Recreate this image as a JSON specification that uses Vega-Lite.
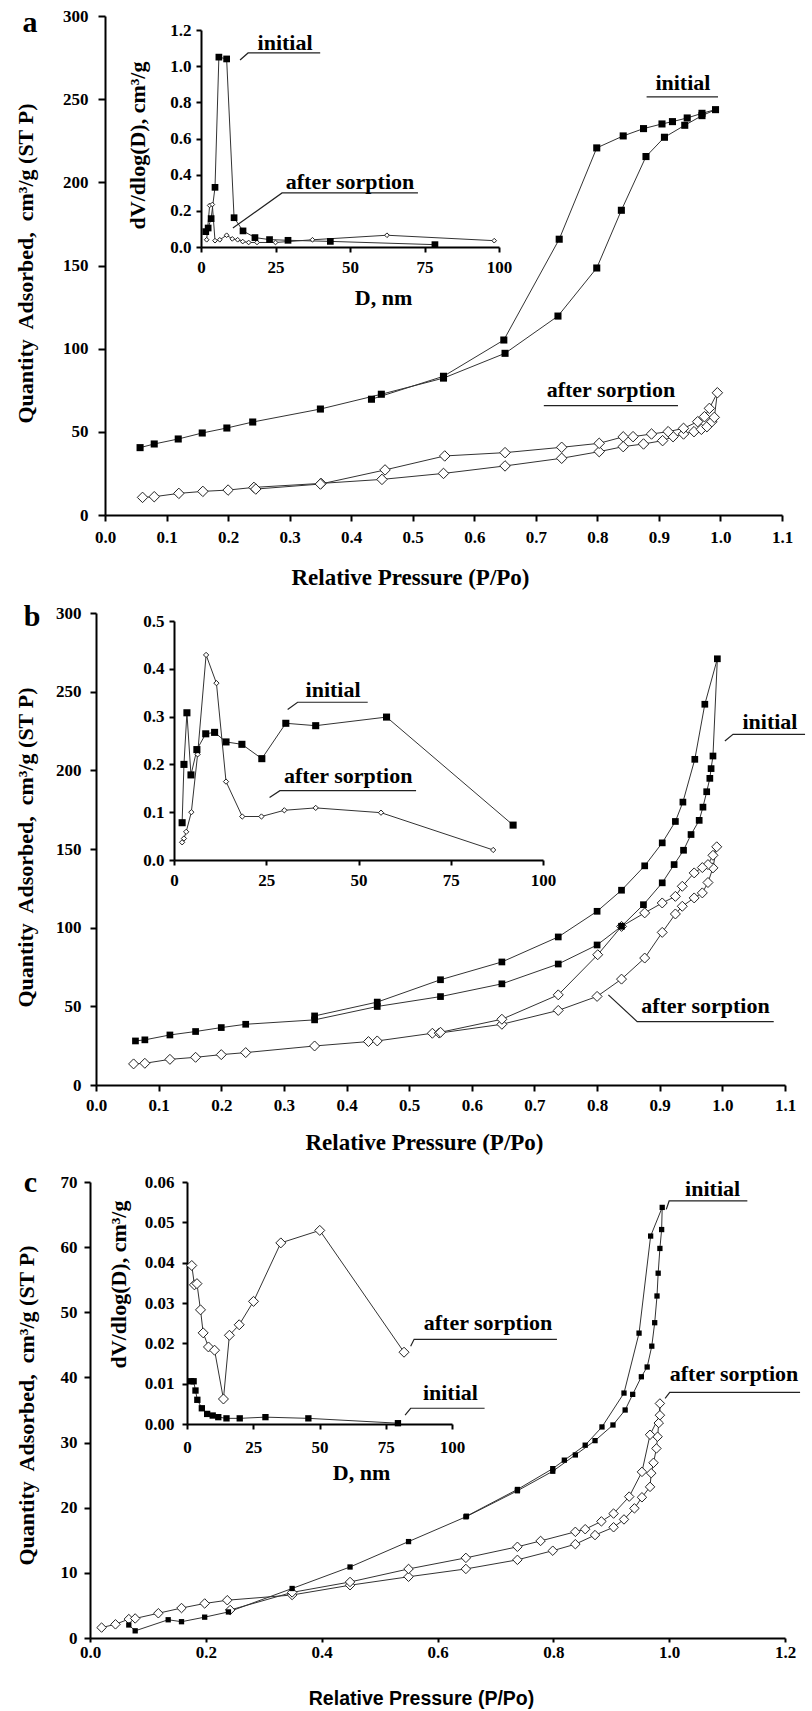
{
  "$schema": "https://vega.github.io/schema/vega-lite/v6.json",
  "width": 812,
  "height": 1711,
  "autosize": {"type": "none"},
  "padding": 0,
  "background": "white",
  "config": {
    "font": "Liberation Serif",
    "view": {"stroke": null},
    "axis": {
      "domainColor": "black", "domainWidth": 2, "tickColor": "black", "tickWidth": 2, "grid": false,
      "labelFont": "Liberation Serif", "labelFontWeight": "bold", "labelFontSize": 17, "labelColor": "black",
      "titleFont": "Liberation Serif", "titleFontWeight": "bold", "titleFontSize": 22, "titleColor": "black",
      "labelFlush": false, "labelOverlap": false, "titleBaseline": "middle", "titleAlign": "center"
    }
  },
  "datasets": {
    "aM": [
      {"s":"i","x":0.057,"y":40.5},{"s":"i","x":0.080,"y":42.7},{"s":"i","x":0.119,"y":45.7},{"s":"i","x":0.158,"y":49.3},{"s":"i","x":0.198,"y":52.3},{"s":"i","x":0.240,"y":55.9},{"s":"i","x":0.350,"y":63.7},{"s":"i","x":0.449,"y":72.6},{"s":"i","x":0.550,"y":82.3},{"s":"i","x":0.650,"y":97.2},{"s":"i","x":0.736,"y":119.6},{"s":"i","x":0.799,"y":148.5},{"s":"i","x":0.839,"y":183.2},{"s":"i","x":0.879,"y":215.5},{"s":"i","x":0.909,"y":227.1},{"s":"i","x":0.942,"y":234.3},{"s":"i","x":0.970,"y":240.1},{"s":"i","x":0.992,"y":243.7},{"s":"i","x":0.970,"y":241.5},{"s":"i","x":0.946,"y":238.7},{"s":"i","x":0.922,"y":236.5},{"s":"i","x":0.905,"y":235.1},{"s":"i","x":0.875,"y":232.3},{"s":"i","x":0.842,"y":227.9},{"s":"i","x":0.799,"y":220.7},{"s":"i","x":0.738,"y":165.8},{"s":"i","x":0.648,"y":105.2},{"s":"i","x":0.550,"y":83.4},{"s":"i","x":0.433,"y":69.6},
      {"s":"s","x":0.061,"y":10.6},{"s":"s","x":0.080,"y":11.0},{"s":"s","x":0.120,"y":13.0},{"s":"s","x":0.159,"y":14.2},{"s":"s","x":0.200,"y":15.0},{"s":"s","x":0.242,"y":16.6},{"s":"s","x":0.351,"y":19.0},{"s":"s","x":0.450,"y":21.4},{"s":"s","x":0.550,"y":25.0},{"s":"s","x":0.650,"y":29.5},{"s":"s","x":0.742,"y":34.1},{"s":"s","x":0.803,"y":38.1},{"s":"s","x":0.842,"y":41.1},{"s":"s","x":0.875,"y":42.7},{"s":"s","x":0.906,"y":44.7},{"s":"s","x":0.923,"y":47.1},{"s":"s","x":0.940,"y":48.7},{"s":"s","x":0.957,"y":50.1},{"s":"s","x":0.969,"y":51.5},{"s":"s","x":0.978,"y":53.1},{"s":"s","x":0.986,"y":56.1},{"s":"s","x":0.990,"y":58.7},{"s":"s","x":0.995,"y":73.5},{"s":"s","x":0.982,"y":64.1},{"s":"s","x":0.974,"y":59.1},{"s":"s","x":0.963,"y":56.1},{"s":"s","x":0.940,"y":52.1},{"s":"s","x":0.915,"y":50.1},{"s":"s","x":0.888,"y":48.7},{"s":"s","x":0.858,"y":47.1},{"s":"s","x":0.842,"y":47.0},{"s":"s","x":0.803,"y":43.1},{"s":"s","x":0.742,"y":40.7},{"s":"s","x":0.650,"y":37.5},{"s":"s","x":0.552,"y":35.5},{"s":"s","x":0.455,"y":27.1},{"s":"s","x":0.350,"y":18.6},{"s":"s","x":0.245,"y":15.6}
    ],
    "aML": [
      {"g":1,"x":0.880,"y":251.4},{"g":1,"x":0.996,"y":251.4},
      {"g":2,"x":0.713,"y":65.7},{"g":2,"x":0.931,"y":65.7}
    ],
    "aMT": [
      {"x":0.939,"y":259.8,"t":"initial"},{"x":0.822,"y":75.2,"t":"after sorption"}
    ],
    "aI": [
      {"s":"i","x":1.6,"y":0.085},{"s":"i","x":2.4,"y":0.105},{"s":"i","x":3.4,"y":0.157},{"s":"i","x":4.7,"y":0.33},{"s":"i","x":6.0,"y":1.05},{"s":"i","x":8.6,"y":1.04},{"s":"i","x":11.1,"y":0.162},{"s":"i","x":14.1,"y":0.089},{"s":"i","x":18.1,"y":0.052},{"s":"i","x":23.0,"y":0.041},{"s":"i","x":29.2,"y":0.037},{"s":"i","x":43.4,"y":0.031},{"s":"i","x":78.5,"y":0.013},
      {"s":"s","x":1.9,"y":0.04},{"s":"s","x":2.9,"y":0.23},{"s":"s","x":3.8,"y":0.235},{"s":"s","x":4.7,"y":0.035},{"s":"s","x":6.3,"y":0.04},{"s":"s","x":8.6,"y":0.065},{"s":"s","x":10.5,"y":0.045},{"s":"s","x":12.3,"y":0.04},{"s":"s","x":14.0,"y":0.03},{"s":"s","x":16.0,"y":0.025},{"s":"s","x":18.8,"y":0.025},{"s":"s","x":25.0,"y":0.025},{"s":"s","x":37.4,"y":0.04},{"s":"s","x":62.4,"y":0.065},{"s":"s","x":98.4,"y":0.035}
    ],
    "aIL": [
      {"g":1,"x":13.1,"y":1.034},{"g":1,"x":15.8,"y":1.073},{"g":1,"x":40,"y":1.073},
      {"g":2,"x":10.7,"y":0.105},{"g":2,"x":27.2,"y":0.299},{"g":2,"x":72.8,"y":0.299}
    ],
    "aIT": [
      {"x":28.2,"y":1.128,"t":"initial"},{"x":50,"y":0.36,"t":"after sorption"}
    ],
    "bM": [
      {"s":"i","x":0.063,"y":28.0},{"s":"i","x":0.078,"y":28.7},{"s":"i","x":0.118,"y":31.8},{"s":"i","x":0.159,"y":34.0},{"s":"i","x":0.200,"y":36.5},{"s":"i","x":0.239,"y":38.6},{"s":"i","x":0.349,"y":41.4},{"s":"i","x":0.449,"y":49.9},{"s":"i","x":0.550,"y":56.2},{"s":"i","x":0.648,"y":64.3},{"s":"i","x":0.738,"y":76.9},{"s":"i","x":0.800,"y":89.0},{"s":"i","x":0.839,"y":100.9},{"s":"i","x":0.874,"y":114.6},{"s":"i","x":0.904,"y":128.5},{"s":"i","x":0.923,"y":140.1},{"s":"i","x":0.938,"y":149.2},{"s":"i","x":0.950,"y":159.2},{"s":"i","x":0.963,"y":168.2},{"s":"i","x":0.969,"y":176.6},{"s":"i","x":0.975,"y":186.4},{"s":"i","x":0.980,"y":194.9},{"s":"i","x":0.982,"y":201.1},{"s":"i","x":0.985,"y":209.1},{"s":"i","x":0.992,"y":270.9},{"s":"i","x":0.972,"y":242.0},{"s":"i","x":0.956,"y":207.0},{"s":"i","x":0.937,"y":179.8},{"s":"i","x":0.925,"y":167.5},{"s":"i","x":0.904,"y":153.9},{"s":"i","x":0.876,"y":139.3},{"s":"i","x":0.839,"y":123.8},{"s":"i","x":0.800,"y":110.4},{"s":"i","x":0.738,"y":94.1},{"s":"i","x":0.648,"y":78.2},{"s":"i","x":0.550,"y":66.9},{"s":"i","x":0.449,"y":52.7},{"s":"i","x":0.349,"y":43.9},
      {"s":"s","x":0.060,"y":13.4},{"s":"s","x":0.078,"y":13.8},{"s":"s","x":0.118,"y":16.3},{"s":"s","x":0.159,"y":17.6},{"s":"s","x":0.200,"y":19.3},{"s":"s","x":0.239,"y":20.6},{"s":"s","x":0.349,"y":24.8},{"s":"s","x":0.435,"y":27.6},{"s":"s","x":0.449,"y":28.0},{"s":"s","x":0.537,"y":32.9},{"s":"s","x":0.548,"y":33.0},{"s":"s","x":0.648,"y":38.6},{"s":"s","x":0.738,"y":47.4},{"s":"s","x":0.800,"y":56.3},{"s":"s","x":0.839,"y":67.3},{"s":"s","x":0.876,"y":80.7},{"s":"s","x":0.904,"y":97.0},{"s":"s","x":0.925,"y":108.7},{"s":"s","x":0.936,"y":113.6},{"s":"s","x":0.955,"y":118.9},{"s":"s","x":0.968,"y":122.1},{"s":"s","x":0.977,"y":128.7},{"s":"s","x":0.985,"y":138.0},{"s":"s","x":0.991,"y":151.4},{"s":"s","x":0.985,"y":146.0},{"s":"s","x":0.977,"y":140.1},{"s":"s","x":0.968,"y":138.2},{"s":"s","x":0.955,"y":134.8},{"s":"s","x":0.936,"y":126.3},{"s":"s","x":0.925,"y":119.9},{"s":"s","x":0.904,"y":115.7},{"s":"s","x":0.876,"y":109.4},{"s":"s","x":0.839,"y":100.8},{"s":"s","x":0.801,"y":82.8},{"s":"s","x":0.738,"y":57.3},{"s":"s","x":0.648,"y":41.8},{"s":"s","x":0.550,"y":33.5}
    ],
    "bML": [
      {"g":1,"x":1.004,"y":218.7},{"g":1,"x":1.017,"y":222.9},{"g":1,"x":1.132,"y":222.9},
      {"g":2,"x":0.818,"y":57.3},{"g":2,"x":0.864,"y":40.3},{"g":2,"x":1.082,"y":40.3}
    ],
    "bMT": [
      {"x":1.076,"y":230.8,"t":"initial"},{"x":0.973,"y":49.9,"t":"after sorption"}
    ],
    "bI": [
      {"s":"i","x":2.2,"y":0.078},{"s":"i","x":2.7,"y":0.200},{"s":"i","x":3.5,"y":0.308},{"s":"i","x":4.6,"y":0.178},{"s":"i","x":6.2,"y":0.231},{"s":"i","x":8.6,"y":0.264},{"s":"i","x":11.0,"y":0.267},{"s":"i","x":14.1,"y":0.247},{"s":"i","x":18.4,"y":0.242},{"s":"i","x":23.8,"y":0.212},{"s":"i","x":30.3,"y":0.286},{"s":"i","x":38.4,"y":0.281},{"s":"i","x":57.6,"y":0.299},{"s":"i","x":91.9,"y":0.073},
      {"s":"s","x":2.2,"y":0.037},{"s":"s","x":2.7,"y":0.045},{"s":"s","x":3.3,"y":0.059},{"s":"s","x":4.7,"y":0.100},{"s":"s","x":6.4,"y":0.221},{"s":"s","x":8.7,"y":0.429},{"s":"s","x":11.5,"y":0.370},{"s":"s","x":14.1,"y":0.164},{"s":"s","x":18.5,"y":0.091},{"s":"s","x":23.7,"y":0.091},{"s":"s","x":29.9,"y":0.104},{"s":"s","x":38.4,"y":0.109},{"s":"s","x":56.1,"y":0.099},{"s":"s","x":86.5,"y":0.021}
    ],
    "bIL": [
      {"g":1,"x":30.8,"y":0.315},{"g":1,"x":33.5,"y":0.330},{"g":1,"x":52.5,"y":0.330},
      {"g":2,"x":25.9,"y":0.131},{"g":2,"x":28.7,"y":0.145},{"g":2,"x":65.6,"y":0.145}
    ],
    "bIT": [
      {"x":43.1,"y":0.356,"t":"initial"},{"x":47.2,"y":0.175,"t":"after sorption"}
    ],
    "cM": [
      {"s":"i","x":0.067,"y":2.0},{"s":"i","x":0.078,"y":1.1},{"s":"i","x":0.135,"y":2.8},{"s":"i","x":0.158,"y":2.5},{"s":"i","x":0.198,"y":3.2},{"s":"i","x":0.239,"y":4.0},{"s":"i","x":0.349,"y":7.6},{"s":"i","x":0.449,"y":10.9},{"s":"i","x":0.550,"y":14.8},{"s":"i","x":0.649,"y":18.6},{"s":"i","x":0.738,"y":22.6},{"s":"i","x":0.799,"y":25.6},{"s":"i","x":0.838,"y":28.1},{"s":"i","x":0.872,"y":30.3},{"s":"i","x":0.903,"y":32.7},{"s":"i","x":0.924,"y":35.0},{"s":"i","x":0.937,"y":37.4},{"s":"i","x":0.952,"y":40.1},{"s":"i","x":0.962,"y":41.6},{"s":"i","x":0.970,"y":44.8},{"s":"i","x":0.975,"y":48.4},{"s":"i","x":0.979,"y":52.5},{"s":"i","x":0.981,"y":56.0},{"s":"i","x":0.984,"y":59.8},{"s":"i","x":0.987,"y":62.7},{"s":"i","x":0.988,"y":66.1},{"s":"i","x":0.968,"y":61.7},{"s":"i","x":0.948,"y":46.8},{"s":"i","x":0.922,"y":37.6},{"s":"i","x":0.884,"y":32.4},{"s":"i","x":0.855,"y":29.6},{"s":"i","x":0.819,"y":27.3},{"s":"i","x":0.799,"y":26.0},{"s":"i","x":0.738,"y":22.8},{"s":"i","x":0.650,"y":18.7},
      {"s":"s","x":0.020,"y":1.6},{"s":"s","x":0.044,"y":2.1},{"s":"s","x":0.067,"y":2.9},{"s":"s","x":0.078,"y":3.0},{"s":"s","x":0.118,"y":3.8},{"s":"s","x":0.158,"y":4.6},{"s":"s","x":0.198,"y":5.3},{"s":"s","x":0.237,"y":5.8},{"s":"s","x":0.349,"y":6.6},{"s":"s","x":0.449,"y":8.1},{"s":"s","x":0.550,"y":9.4},{"s":"s","x":0.649,"y":10.6},{"s":"s","x":0.738,"y":12.0},{"s":"s","x":0.799,"y":13.4},{"s":"s","x":0.838,"y":14.4},{"s":"s","x":0.872,"y":15.8},{"s":"s","x":0.904,"y":17.0},{"s":"s","x":0.922,"y":18.2},{"s":"s","x":0.940,"y":19.9},{"s":"s","x":0.953,"y":21.6},{"s":"s","x":0.967,"y":23.2},{"s":"s","x":0.969,"y":25.3},{"s":"s","x":0.973,"y":26.9},{"s":"s","x":0.978,"y":29.1},{"s":"s","x":0.980,"y":30.9},{"s":"s","x":0.982,"y":33.0},{"s":"s","x":0.984,"y":36.0},{"s":"s","x":0.984,"y":34.2},{"s":"s","x":0.967,"y":31.2},{"s":"s","x":0.953,"y":25.5},{"s":"s","x":0.931,"y":21.7},{"s":"s","x":0.904,"y":19.1},{"s":"s","x":0.883,"y":17.9},{"s":"s","x":0.855,"y":16.7},{"s":"s","x":0.838,"y":16.3},{"s":"s","x":0.778,"y":14.9},{"s":"s","x":0.738,"y":14.0},{"s":"s","x":0.649,"y":12.3},{"s":"s","x":0.550,"y":10.6},{"s":"s","x":0.449,"y":8.6},{"s":"s","x":0.349,"y":7.0},{"s":"s","x":0.242,"y":4.3}
    ],
    "cML": [
      {"g":1,"x":0.995,"y":65.8},{"g":1,"x":1.0,"y":67.1},{"g":1,"x":1.135,"y":67.1},
      {"g":2,"x":0.993,"y":36.8},{"g":2,"x":1.001,"y":37.7},{"g":2,"x":1.226,"y":37.7}
    ],
    "cMT": [
      {"x":1.075,"y":68.9,"t":"initial"},{"x":1.112,"y":40.6,"t":"after sorption"}
    ],
    "cI": [
      {"s":"s","x":1.8,"y":0.0393},{"s":"s","x":2.8,"y":0.0345},{"s":"s","x":3.75,"y":0.0348},{"s":"s","x":5.1,"y":0.0283},{"s":"s","x":6.1,"y":0.0226},{"s":"s","x":8.1,"y":0.0191},{"s":"s","x":10.4,"y":0.0183},{"s":"s","x":13.75,"y":0.0062},{"s":"s","x":16.0,"y":0.0220},{"s":"s","x":19.7,"y":0.0246},{"s":"s","x":25.1,"y":0.0304},{"s":"s","x":35.4,"y":0.0449},{"s":"s","x":50.1,"y":0.0480},{"s":"s","x":81.9,"y":0.0178},
      {"s":"i","x":1.5,"y":0.0106},{"s":"i","x":2.5,"y":0.0106},{"s":"i","x":3.2,"y":0.0083},{"s":"i","x":3.9,"y":0.0060},{"s":"i","x":5.6,"y":0.0039},{"s":"i","x":7.6,"y":0.0025},{"s":"i","x":9.7,"y":0.0021},{"s":"i","x":11.8,"y":0.0017},{"s":"i","x":14.9,"y":0.0014},{"s":"i","x":19.9,"y":0.0014},{"s":"i","x":29.6,"y":0.0017},{"s":"i","x":45.8,"y":0.0014},{"s":"i","x":79.6,"y":0.0002}
    ],
    "cIL": [
      {"g":1,"x":84.4,"y":0.0193},{"g":1,"x":85.7,"y":0.0210},{"g":1,"x":139.6,"y":0.0210},
      {"g":2,"x":82.3,"y":0.0022},{"g":2,"x":84.4,"y":0.0039},{"g":2,"x":112.3,"y":0.0039}
    ],
    "cIT": [
      {"x":113.6,"y":0.0251,"t":"after sorption"},{"x":99.4,"y":0.0076,"t":"initial"}
    ]
  },
  "layer": [
    {
      "layer": [
        {"data": {"name": "aM"}, "mark": {"type": "line", "stroke": "#333333", "strokeWidth": 1},
         "encoding": {
           "x": {"field": "x", "type": "quantitative", "scale": {"domain": [0, 1.1], "range": [105, 782], "nice": false, "zero": false},
                 "axis": {"orient": "bottom", "offset": -1196, "values": [0,0.1,0.2,0.3,0.4,0.5,0.6,0.7,0.8,0.9,1.0,1.1], "format": ".1f", "tickSize": 6, "labelPadding": 8, "title": "Relative Pressure (P/Po)", "titleFontSize": 23, "titleX": 410, "titleY": 62}},
           "y": {"field": "y", "type": "quantitative", "scale": {"domain": [0, 300], "range": [515, 16], "nice": false, "zero": false},
                 "axis": {"orient": "left", "offset": -105, "values": [0,50,100,150,200,250,300], "tickSize": 7, "labelPadding": 10, "title": "Quantity\u00a0 Adsorbed,\u00a0 cm\u00b3/g (ST\u00a0P)", "titleAngle": 270, "titleX": -80, "titleY": 263}},
           "detail": {"field": "s"}, "order": {"value": null}}},
        {"data": {"name": "aM"}, "transform": [{"filter": "datum.s == 's'"}],
         "mark": {"type": "point", "shape": "diamond", "filled": true, "fill": "white", "stroke": "#222222", "strokeWidth": 1, "size": 110, "opacity": 1},
         "encoding": {"x": {"field": "x", "type": "quantitative"}, "y": {"field": "y", "type": "quantitative"}}},
        {"data": {"name": "aM"}, "transform": [{"filter": "datum.s == 'i'"}],
         "mark": {"type": "point", "shape": "square", "filled": true, "color": "black", "size": 50, "opacity": 1},
         "encoding": {"x": {"field": "x", "type": "quantitative"}, "y": {"field": "y", "type": "quantitative"}}},
        {"data": {"name": "aML"}, "mark": {"type": "line", "stroke": "#222222", "strokeWidth": 1.2},
         "encoding": {"x": {"field": "x", "type": "quantitative"}, "y": {"field": "y", "type": "quantitative"}, "detail": {"field": "g"}, "order": {"value": null}}},
        {"data": {"name": "aMT"}, "mark": {"type": "text", "font": "Liberation Serif", "fontWeight": "bold", "fontSize": 22, "baseline": "middle", "align": "center", "color": "black"},
         "encoding": {"x": {"field": "x", "type": "quantitative"}, "y": {"field": "y", "type": "quantitative"}, "text": {"field": "t"}}},
        {"data": {"values": [{"x": -0.122, "y": 290.4, "t": "a"}]}, "mark": {"type": "text", "font": "Liberation Serif", "fontWeight": "bold", "fontSize": 30, "baseline": "alphabetic", "align": "center", "color": "black"},
         "encoding": {"x": {"field": "x", "type": "quantitative"}, "y": {"field": "y", "type": "quantitative"}, "text": {"field": "t"}}}
      ]
    },
    {
      "layer": [
        {"data": {"name": "aI"}, "mark": {"type": "line", "stroke": "#333333", "strokeWidth": 1},
         "encoding": {
           "x": {"field": "x", "type": "quantitative", "scale": {"domain": [0, 100], "range": [201, 499], "nice": false, "zero": false},
                 "axis": {"orient": "bottom", "offset": -1464, "values": [0,25,50,75,100], "tickSize": 5, "labelPadding": 7, "title": "D, nm", "titleX": 383, "titleY": 50}},
           "y": {"field": "y", "type": "quantitative", "scale": {"domain": [0, 1.2], "range": [247, 30], "nice": false, "zero": false},
                 "axis": {"orient": "left", "offset": -201, "values": [0,0.2,0.4,0.6,0.8,1.0,1.2], "format": ".1f", "tickSize": 5, "labelPadding": 5, "title": "dV/dlog(D), cm\u00b3/g", "titleAngle": 270, "titleX": -64, "titleY": 145}},
           "detail": {"field": "s"}, "order": {"value": null}}},
        {"data": {"name": "aI"}, "transform": [{"filter": "datum.s == 's'"}],
         "mark": {"type": "point", "shape": "diamond", "filled": true, "fill": "white", "stroke": "#222222", "strokeWidth": 1, "size": 22, "opacity": 1},
         "encoding": {"x": {"field": "x", "type": "quantitative"}, "y": {"field": "y", "type": "quantitative"}}},
        {"data": {"name": "aI"}, "transform": [{"filter": "datum.s == 'i'"}],
         "mark": {"type": "point", "shape": "square", "filled": true, "color": "black", "size": 45, "opacity": 1},
         "encoding": {"x": {"field": "x", "type": "quantitative"}, "y": {"field": "y", "type": "quantitative"}}},
        {"data": {"name": "aIL"}, "mark": {"type": "line", "stroke": "#222222", "strokeWidth": 1.2},
         "encoding": {"x": {"field": "x", "type": "quantitative"}, "y": {"field": "y", "type": "quantitative"}, "detail": {"field": "g"}, "order": {"value": null}}},
        {"data": {"name": "aIT"}, "mark": {"type": "text", "font": "Liberation Serif", "fontWeight": "bold", "fontSize": 22, "baseline": "middle", "align": "center", "color": "black"},
         "encoding": {"x": {"field": "x", "type": "quantitative"}, "y": {"field": "y", "type": "quantitative"}, "text": {"field": "t"}}}
      ]
    },
    {
      "layer": [
        {"data": {"name": "bM"}, "mark": {"type": "line", "stroke": "#333333", "strokeWidth": 1},
         "encoding": {
           "x": {"field": "x", "type": "quantitative", "scale": {"domain": [0, 1.1], "range": [96, 785], "nice": false, "zero": false},
                 "axis": {"orient": "bottom", "offset": -626, "values": [0,0.1,0.2,0.3,0.4,0.5,0.6,0.7,0.8,0.9,1.0,1.1], "format": ".1f", "tickSize": 6, "labelPadding": 6, "title": "Relative Pressure (P/Po)", "titleFontSize": 23, "titleX": 424, "titleY": 57}},
           "y": {"field": "y", "type": "quantitative", "scale": {"domain": [0, 300], "range": [1085, 613], "nice": false, "zero": false},
                 "axis": {"orient": "left", "offset": -96, "values": [0,50,100,150,200,250,300], "tickSize": 6, "labelPadding": 9, "title": "Quantity\u00a0 Adsorbed,\u00a0 cm\u00b3/g (ST\u00a0P)", "titleAngle": 270, "titleX": -71, "titleY": 847}},
           "detail": {"field": "s"}, "order": {"value": null}}},
        {"data": {"name": "bM"}, "transform": [{"filter": "datum.s == 's'"}],
         "mark": {"type": "point", "shape": "diamond", "filled": true, "fill": "white", "stroke": "#222222", "strokeWidth": 1, "size": 100, "opacity": 1},
         "encoding": {"x": {"field": "x", "type": "quantitative"}, "y": {"field": "y", "type": "quantitative"}}},
        {"data": {"name": "bM"}, "transform": [{"filter": "datum.s == 'i'"}],
         "mark": {"type": "point", "shape": "square", "filled": true, "color": "black", "size": 45, "opacity": 1},
         "encoding": {"x": {"field": "x", "type": "quantitative"}, "y": {"field": "y", "type": "quantitative"}}},
        {"data": {"name": "bML"}, "mark": {"type": "line", "stroke": "#222222", "strokeWidth": 1.2},
         "encoding": {"x": {"field": "x", "type": "quantitative"}, "y": {"field": "y", "type": "quantitative"}, "detail": {"field": "g"}, "order": {"value": null}}},
        {"data": {"name": "bMT"}, "mark": {"type": "text", "font": "Liberation Serif", "fontWeight": "bold", "fontSize": 22, "baseline": "middle", "align": "center", "color": "black"},
         "encoding": {"x": {"field": "x", "type": "quantitative"}, "y": {"field": "y", "type": "quantitative"}, "text": {"field": "t"}}},
        {"data": {"values": [{"x": -0.102, "y": 291.7, "t": "b"}]}, "mark": {"type": "text", "font": "Liberation Serif", "fontWeight": "bold", "fontSize": 30, "baseline": "alphabetic", "align": "center", "color": "black"},
         "encoding": {"x": {"field": "x", "type": "quantitative"}, "y": {"field": "y", "type": "quantitative"}, "text": {"field": "t"}}}
      ]
    },
    {
      "layer": [
        {"data": {"name": "bI"}, "mark": {"type": "line", "stroke": "#333333", "strokeWidth": 1},
         "encoding": {
           "x": {"field": "x", "type": "quantitative", "scale": {"domain": [0, 100], "range": [174, 543], "nice": false, "zero": false},
                 "axis": {"orient": "bottom", "offset": -851, "values": [0,25,50,75,100], "tickSize": 5, "labelPadding": 7, "title": null}},
           "y": {"field": "y", "type": "quantitative", "scale": {"domain": [0, 0.5], "range": [860, 621], "nice": false, "zero": false},
                 "axis": {"orient": "left", "offset": -174, "values": [0,0.1,0.2,0.3,0.4,0.5], "format": ".1f", "tickSize": 5, "labelPadding": 5, "title": null}},
           "detail": {"field": "s"}, "order": {"value": null}}},
        {"data": {"name": "bI"}, "transform": [{"filter": "datum.s == 's'"}],
         "mark": {"type": "point", "shape": "diamond", "filled": true, "fill": "white", "stroke": "#222222", "strokeWidth": 1, "size": 28, "opacity": 1},
         "encoding": {"x": {"field": "x", "type": "quantitative"}, "y": {"field": "y", "type": "quantitative"}}},
        {"data": {"name": "bI"}, "transform": [{"filter": "datum.s == 'i'"}],
         "mark": {"type": "point", "shape": "square", "filled": true, "color": "black", "size": 50, "opacity": 1},
         "encoding": {"x": {"field": "x", "type": "quantitative"}, "y": {"field": "y", "type": "quantitative"}}},
        {"data": {"name": "bIL"}, "mark": {"type": "line", "stroke": "#222222", "strokeWidth": 1.2},
         "encoding": {"x": {"field": "x", "type": "quantitative"}, "y": {"field": "y", "type": "quantitative"}, "detail": {"field": "g"}, "order": {"value": null}}},
        {"data": {"name": "bIT"}, "mark": {"type": "text", "font": "Liberation Serif", "fontWeight": "bold", "fontSize": 22, "baseline": "middle", "align": "center", "color": "black"},
         "encoding": {"x": {"field": "x", "type": "quantitative"}, "y": {"field": "y", "type": "quantitative"}, "text": {"field": "t"}}}
      ]
    },
    {
      "layer": [
        {"data": {"name": "cM"}, "mark": {"type": "line", "stroke": "#333333", "strokeWidth": 1},
         "encoding": {
           "x": {"field": "x", "type": "quantitative", "scale": {"domain": [0, 1.2], "range": [90, 785], "nice": false, "zero": false},
                 "axis": {"orient": "bottom", "offset": -73, "values": [0,0.2,0.4,0.6,0.8,1.0,1.2], "format": ".1f", "tickSize": 4, "labelPadding": 2, "title": "Relative Pressure (P/Po)", "titleFont": "Liberation Sans", "titleFontSize": 19.5, "titleX": 421, "titleY": 60}},
           "y": {"field": "y", "type": "quantitative", "scale": {"domain": [0, 70], "range": [1638, 1182], "nice": false, "zero": false},
                 "axis": {"orient": "left", "offset": -90, "values": [0,10,20,30,40,50,60,70], "tickSize": 6, "labelPadding": 7, "title": "Quantity\u00a0 Adsorbed,\u00a0 cm\u00b3/g (ST\u00a0P)", "titleAngle": 270, "titleX": -64, "titleY": 1405}},
           "detail": {"field": "s"}, "order": {"value": null}}},
        {"data": {"name": "cM"}, "transform": [{"filter": "datum.s == 's'"}],
         "mark": {"type": "point", "shape": "diamond", "filled": true, "fill": "white", "stroke": "#222222", "strokeWidth": 1, "size": 90, "opacity": 1},
         "encoding": {"x": {"field": "x", "type": "quantitative"}, "y": {"field": "y", "type": "quantitative"}}},
        {"data": {"name": "cM"}, "transform": [{"filter": "datum.s == 'i'"}],
         "mark": {"type": "point", "shape": "square", "filled": true, "color": "black", "size": 28, "opacity": 1},
         "encoding": {"x": {"field": "x", "type": "quantitative"}, "y": {"field": "y", "type": "quantitative"}}},
        {"data": {"name": "cML"}, "mark": {"type": "line", "stroke": "#222222", "strokeWidth": 1.2},
         "encoding": {"x": {"field": "x", "type": "quantitative"}, "y": {"field": "y", "type": "quantitative"}, "detail": {"field": "g"}, "order": {"value": null}}},
        {"data": {"name": "cMT"}, "mark": {"type": "text", "font": "Liberation Serif", "fontWeight": "bold", "fontSize": 22, "baseline": "middle", "align": "center", "color": "black"},
         "encoding": {"x": {"field": "x", "type": "quantitative"}, "y": {"field": "y", "type": "quantitative"}, "text": {"field": "t"}}},
        {"data": {"values": [{"x": -0.103, "y": 68.5, "t": "c"}]}, "mark": {"type": "text", "font": "Liberation Serif", "fontWeight": "bold", "fontSize": 30, "baseline": "alphabetic", "align": "center", "color": "black"},
         "encoding": {"x": {"field": "x", "type": "quantitative"}, "y": {"field": "y", "type": "quantitative"}, "text": {"field": "t"}}}
      ]
    },
    {
      "layer": [
        {"data": {"name": "cI"}, "mark": {"type": "line", "stroke": "#333333", "strokeWidth": 1},
         "encoding": {
           "x": {"field": "x", "type": "quantitative", "scale": {"domain": [0, 100], "range": [187, 452], "nice": false, "zero": false},
                 "axis": {"orient": "bottom", "offset": -287, "values": [0,25,50,75,100], "tickSize": 5, "labelPadding": 10, "title": "D, nm", "titleX": 361, "titleY": 48}},
           "y": {"field": "y", "type": "quantitative", "scale": {"domain": [0, 0.06], "range": [1424, 1182], "nice": false, "zero": false},
                 "axis": {"orient": "left", "offset": -187, "values": [0,0.01,0.02,0.03,0.04,0.05,0.06], "format": ".2f", "tickSize": 5, "labelPadding": 8, "title": "dV/dlog(D), cm\u00b3/g", "titleAngle": 270, "titleX": -69, "titleY": 1284}},
           "detail": {"field": "s"}, "order": {"value": null}}},
        {"data": {"name": "cI"}, "transform": [{"filter": "datum.s == 's'"}],
         "mark": {"type": "point", "shape": "diamond", "filled": true, "fill": "white", "stroke": "#222222", "strokeWidth": 1, "size": 100, "opacity": 1},
         "encoding": {"x": {"field": "x", "type": "quantitative"}, "y": {"field": "y", "type": "quantitative"}}},
        {"data": {"name": "cI"}, "transform": [{"filter": "datum.s == 'i'"}],
         "mark": {"type": "point", "shape": "square", "filled": true, "color": "black", "size": 40, "opacity": 1},
         "encoding": {"x": {"field": "x", "type": "quantitative"}, "y": {"field": "y", "type": "quantitative"}}},
        {"data": {"name": "cIL"}, "mark": {"type": "line", "stroke": "#222222", "strokeWidth": 1.2},
         "encoding": {"x": {"field": "x", "type": "quantitative"}, "y": {"field": "y", "type": "quantitative"}, "detail": {"field": "g"}, "order": {"value": null}}},
        {"data": {"name": "cIT"}, "mark": {"type": "text", "font": "Liberation Serif", "fontWeight": "bold", "fontSize": 22, "baseline": "middle", "align": "center", "color": "black"},
         "encoding": {"x": {"field": "x", "type": "quantitative"}, "y": {"field": "y", "type": "quantitative"}, "text": {"field": "t"}}}
      ]
    }
  ],
  "resolve": {"scale": {"x": "independent", "y": "independent"}, "axis": {"x": "independent", "y": "independent"}}
}
